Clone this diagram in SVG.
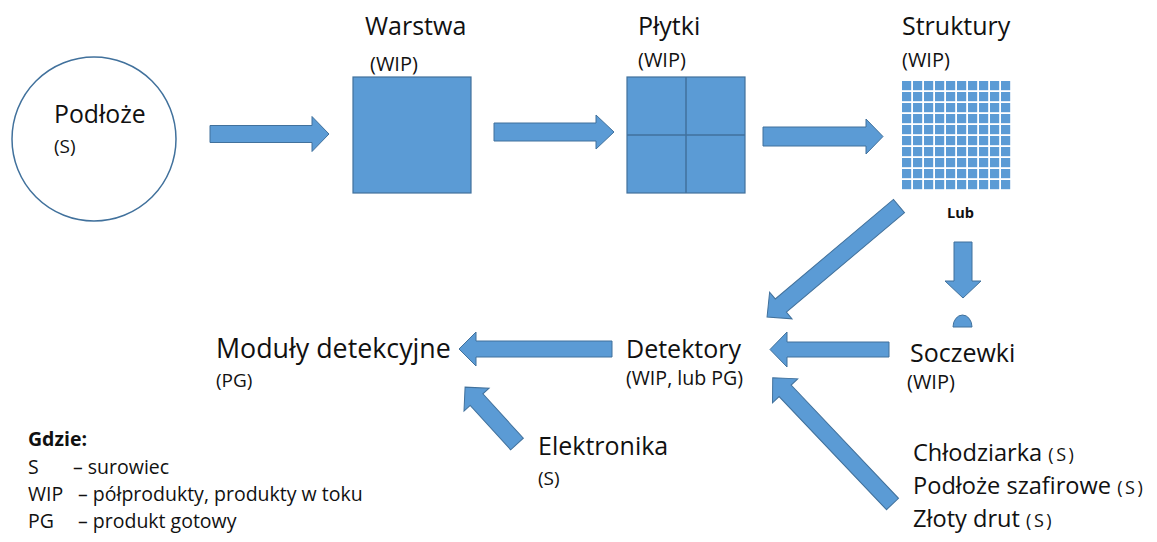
<svg xmlns="http://www.w3.org/2000/svg" width="1157" height="542" viewBox="0 0 1157 542">
<style>
.t{font-family:"Open Sans","Liberation Sans",sans-serif;fill:#111;}
.big{font-size:25px;}
.sm{font-size:19px;}
.wip{font-size:20px;}
.lg{font-size:19.5px;}
.mat{font-size:23.6px;}
.s{font-size:18px;letter-spacing:2.5px;}
.b{font-weight:bold;}
.arr{fill:#5b9bd5;stroke:#41719c;stroke-width:1;}
.blk{fill:#5b9bd5;stroke:#41719c;stroke-width:1.2;}
</style>
<defs>
<pattern id="grid" patternUnits="userSpaceOnUse" x="902" y="81" width="11" height="11">
<rect x="0" y="0" width="9.2" height="9.2" fill="#5b9bd5"/>
</pattern>
</defs>
<rect width="1157" height="542" fill="#fff"/>

<g id="podloze">
<circle cx="94" cy="139" r="82" fill="#fff" stroke="#41719c" stroke-width="1.5"/>
<text class="t" x="54" y="123" font-size="24.8">Podłoże</text>
<text class="t sm" x="54" y="153">(S)</text>
</g>

<g id="warstwa">
<rect class="blk" x="353" y="77" width="118" height="116"/>
<text class="t big" x="365" y="35">Warstwa</text>
<text class="t wip" x="370" y="71">(WIP)</text>
</g>

<g id="plytki">
<rect class="blk" x="627" y="77" width="118" height="116"/>
<line x1="686" y1="77" x2="686" y2="193" stroke="#41719c" stroke-width="1.5"/>
<line x1="627" y1="135" x2="745" y2="135" stroke="#41719c" stroke-width="1.5"/>
<text class="t big" x="638" y="35">Płytki</text>
<text class="t wip" x="638" y="67">(WIP)</text>
</g>

<g id="struktury">
<rect x="902" y="81" width="109" height="109" fill="url(#grid)"/>
<text class="t big" x="902" y="35">Struktury</text>
<text class="t wip" x="902" y="67">(WIP)</text>
<text class="t b" x="947" y="218" font-size="14.5">Lub</text>
</g>

<g id="soczewki">
<path d="M953,327 A9.5,12 0 0 1 972,327 Z" class="arr"/>
<text class="t big" x="910" y="362">Soczewki</text>
<text class="t wip" x="907" y="389">(WIP)</text>
</g>

<g id="detektory">
<text class="t big" x="626" y="358">Detektory</text>
<text class="t" x="626" y="385" font-size="19.6">(WIP, lub PG)</text>
</g>

<g id="moduly">
<text class="t" x="216" y="358" font-size="26.8">Moduły detekcyjne</text>
<text class="t sm" x="216" y="387">(PG)</text>
</g>

<g id="elektronika">
<text class="t big" x="538" y="455">Elektronika</text>
<text class="t sm" x="538" y="485">(S)</text>
</g>

<g id="materialy">
<text class="t mat" x="913" y="461">Chłodziarka <tspan class="s">(S)</tspan></text>
<text class="t mat" x="913" y="494">Podłoże szafirowe <tspan class="s">(S)</tspan></text>
<text class="t mat" x="913" y="527">Złoty drut <tspan class="s">(S)</tspan></text>
</g>

<g id="legenda">
<text class="t lg b" x="28" y="446">Gdzie:</text>
<text class="t lg" x="28" y="474">S</text>
<text class="t lg" x="73" y="474">– surowiec</text>
<text class="t lg" x="28" y="501">WIP</text>
<text class="t lg" x="78" y="501">– półprodukty, produkty w toku</text>
<text class="t lg" x="28" y="528">PG</text>
<text class="t lg" x="78" y="528">– produkt gotowy</text>
</g>

<g id="connectors">
<polygon class="arr" points="210,125.5 312,125.5 312,116.5 329,134 312,151.5 312,142.5 210,142.5"/>
<polygon class="arr" points="494,123 596,123 596,115 614,132 596,149 596,141 494,141"/>
<polygon class="arr" points="763,127 866,127 866,119 883,136.5 866,154 866,146 763,146"/>
<polygon class="arr" points="954,242 972,242 972,281 981,281 963,298 945,281 954,281"/>
<polygon class="arr" points="889,342 787,342 787,332 770,349.5 787,367 787,357 889,357"/>
<polygon class="arr" points="612,341 476,341 476,332 459,349 476,366 476,357 612,357"/>
<polygon class="arr" transform="translate(899,206) rotate(139.9)" points="0,-8.6 154.5,-8.6 154.5,-17.4 172.5,0 154.5,17.4 154.5,8.6 0,8.6"/>
<polygon class="arr" transform="translate(517,444) rotate(-132.4)" points="0,-8.6 60,-8.6 60,-17 77,0 60,17 60,8.6 0,8.6"/>
<polygon class="arr" transform="translate(892.5,504) rotate(-133.5)" points="0,-8.3 156,-8.3 156,-17.4 174,0 156,17.4 156,8.3 0,8.3"/>
</g>
</svg>
